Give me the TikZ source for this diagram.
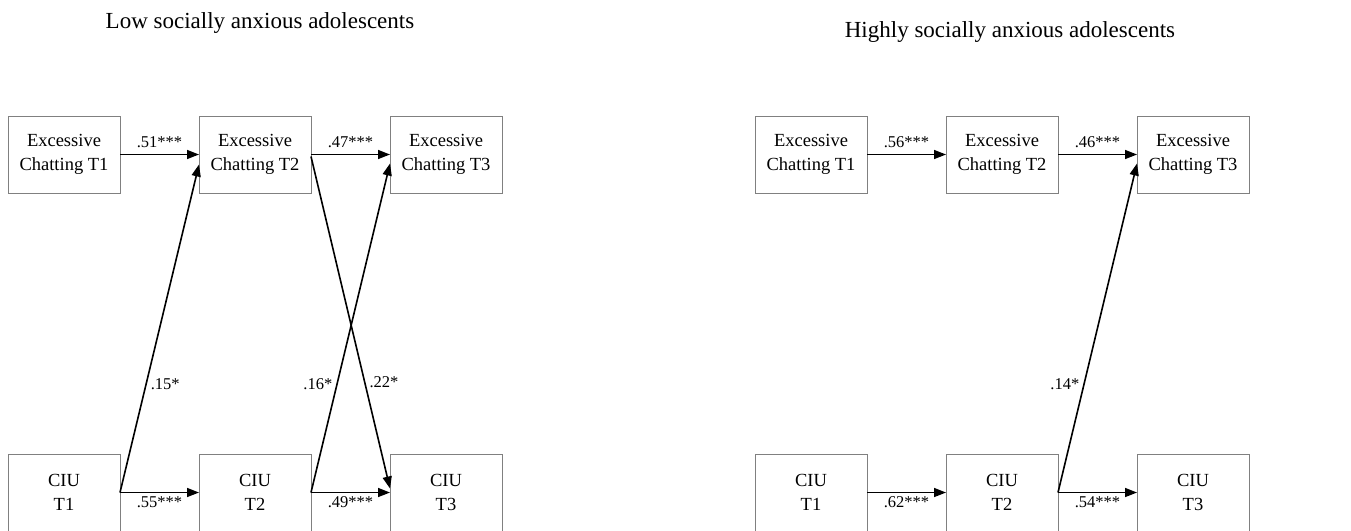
\documentclass[tikz,border=0pt]{standalone}
\usepackage{fontspec}
\setmainfont{Liberation Serif}
\usetikzlibrary{arrows.meta}
\begin{document}
\begin{tikzpicture}[x=1pt,y=-1pt,
  box/.style={draw=black!50, line width=0.9pt, minimum width=112pt, minimum height=77pt,
    inner sep=0pt, outer sep=0pt, align=center, font=\fontsize{18.5}{24}\selectfont},
  arr/.style={line width=1.6pt, -{Triangle[length=12pt,width=9pt]}},
  lab/.style={font=\fontsize{16.5}{18}\selectfont, inner sep=2pt},
  dlab/.style={font=\fontsize{16.5}{18}\selectfont, inner sep=4pt},
  ttl/.style={font=\fontsize{23}{26}\selectfont, anchor=base, inner sep=0pt}]
\useasboundingbox[fill=white] (0,0) rectangle (1351,530);

% titles
\node[ttl] (t1) at (260,28) {Low socially anxious adolescents};
\node[ttl] (t2) at (1010,37) {Highly socially anxious adolescents};

% left panel
\node[box] (le1) at (64,154.5)  {Excessive\\Chatting T1};
\node[box] (le2) at (255,154.5) {Excessive\\Chatting T2};
\node[box] (le3) at (446,154.5) {Excessive\\Chatting T3};
\node[box] (lc1) at (64,492.5)  {CIU\\T1};
\node[box] (lc2) at (255,492.5) {CIU\\T2};
\node[box] (lc3) at (446,492.5) {CIU\\T3};

\draw[arr] (le1.east) -- node[lab, above=4pt] {.51***} (le2.west);
\draw[arr] (le2.east) -- node[lab, above=4pt] {.47***} (le3.west);
\draw[arr] (lc1.east) -- node[lab, below=1.5pt] {.55***} (lc2.west);
\draw[arr] (lc2.east) -- node[lab, below=1.5pt] {.49***} (lc3.west);
\draw[arr] (lc1.east) -- node[dlab, pos=0.33, anchor=west] {.15*} ([yshift=-10pt]le2.west);
\draw[arr] (lc2.east) -- node[dlab, pos=0.33, anchor=east] {.16*} ([yshift=-9pt]le3.west);
\draw[arr] ([yshift=-2pt]le2.east) -- node[dlab, pos=0.68, anchor=west] {.22*} ([yshift=4pt]lc3.west);

% right panel
\node[box] (re1) at (811,154.5)  {Excessive\\Chatting T1};
\node[box] (re2) at (1002,154.5) {Excessive\\Chatting T2};
\node[box] (re3) at (1193,154.5) {Excessive\\Chatting T3};
\node[box] (rc1) at (811,492.5)  {CIU\\T1};
\node[box] (rc2) at (1002,492.5) {CIU\\T2};
\node[box] (rc3) at (1193,492.5) {CIU\\T3};

\draw[arr] (re1.east) -- node[lab, above=4pt] {.56***} (re2.west);
\draw[arr] (re2.east) -- node[lab, above=4pt] {.46***} (re3.west);
\draw[arr] (rc1.east) -- node[lab, below=1.5pt] {.62***} (rc2.west);
\draw[arr] (rc2.east) -- node[lab, below=1.5pt] {.54***} (rc3.west);
\draw[arr] (rc2.east) -- node[dlab, pos=0.33, anchor=east] {.14*} ([yshift=-9pt]re3.west);
\end{tikzpicture}
\end{document}
